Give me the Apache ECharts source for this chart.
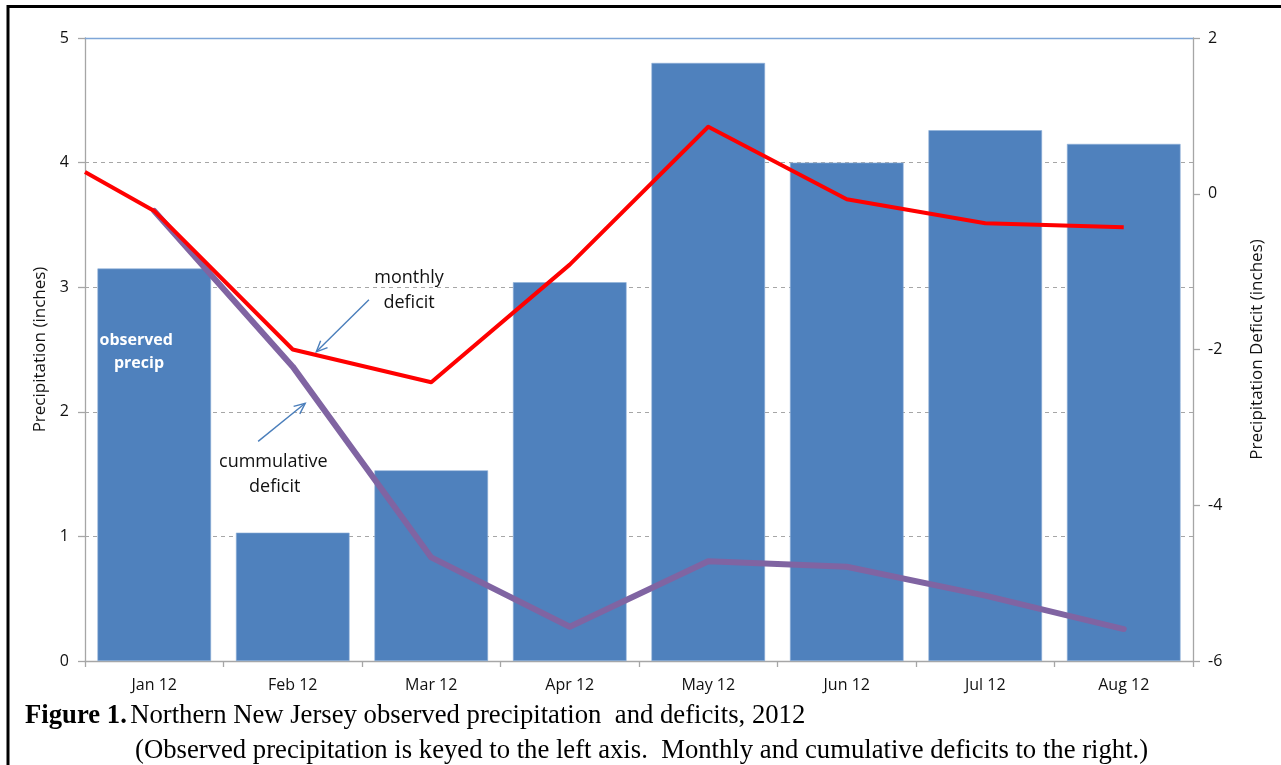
<!DOCTYPE html>
<html>
<head>
<meta charset="utf-8">
<title>Northern New Jersey precipitation and deficits, 2012</title>
<script src="https://cdn.jsdelivr.net/npm/echarts@6/dist/echarts.min.js"></script>
<style>
  html, body { margin: 0; padding: 0; background: #fff; }
  #chart { width: 1281px; height: 765px; }
</style>
</head>
<body>
<div id="chart"></div>
<script>
// ---- data (inches) ----
const months = ['Jan 12', 'Feb 12', 'Mar 12', 'Apr 12', 'May 12', 'Jun 12', 'Jul 12', 'Aug 12'];
const precip = [3.15, 1.03, 1.53, 3.04, 4.80, 4.00, 4.26, 4.15];

// monthly deficit line enters from the left edge of the plot (position -0.5)
const monthlyPos = [-0.5, 0, 1, 2, 3, 4, 5, 6, 7];
const monthlyDeficit = [0.28, -0.22, -2.00, -2.42, -0.91, 0.86, -0.07, -0.38, -0.43];

const cumulativePos = [0, 1, 2, 3, 4, 5, 6, 7];
const cumulativeDeficit = [-0.22, -2.22, -4.67, -5.56, -4.72, -4.79, -5.16, -5.59];

// axis ranges
const precipAxis = { min: 0, max: 5, interval: 1 };
const deficitAxis = { min: -6, max: 2, interval: 2 };

const FONT = '"Open Sans", sans-serif';
const SERIF = '"Liberation Serif", "Times New Roman", serif';
const AXIS_GREY = '#a6a6a6';

const chart = echarts.init(document.getElementById('chart'), null, { renderer: 'canvas' });

const zip = (xs, ys) => xs.map((x, i) => [x, ys[i]]);

chart.setOption({
  backgroundColor: '#fff',
  animation: false,
  grid: { left: 85, right: 88, top: 38, bottom: 104, containLabel: false },
  xAxis: [
    {
      type: 'category',
      data: months,
      position: 'bottom',
      axisLine: { onZero: false, lineStyle: { color: AXIS_GREY, width: 1.3 } },
      axisTick: { show: true, length: 6, lineStyle: { color: AXIS_GREY, width: 1.3 } },
      axisLabel: { color: '#111', fontFamily: FONT, fontSize: 16, margin: 16 },
      splitLine: { show: false }
    },
    {
      // index scale shared with the category centres; its line closes the top of the plot
      type: 'value',
      min: -0.5,
      max: 7.5,
      position: 'top',
      axisLine: { show: true, onZero: false, lineStyle: { color: '#7ea6d8', width: 1.3 } },
      axisTick: { show: false },
      axisLabel: { show: false },
      splitLine: { show: false }
    }
  ],
  yAxis: [
    {
      type: 'value',
      min: precipAxis.min,
      max: precipAxis.max,
      interval: precipAxis.interval,
      position: 'left',
      name: 'Precipitation (inches)',
      nameLocation: 'middle',
      nameGap: 36,
      nameRotate: 90,
      nameTextStyle: { color: '#111', fontFamily: FONT, fontSize: 17 },
      axisLine: { show: true, onZero: false, lineStyle: { color: AXIS_GREY, width: 1.3 } },
      axisTick: { show: true, length: 7, lineStyle: { color: AXIS_GREY, width: 1.3 } },
      axisLabel: { color: '#111', fontFamily: FONT, fontSize: 16, margin: 16 },
      splitLine: { show: true, lineStyle: { color: '#a6a6a6', type: [4, 4], width: 1 } }
    },
    {
      type: 'value',
      min: deficitAxis.min,
      max: deficitAxis.max,
      interval: deficitAxis.interval,
      position: 'right',
      name: 'Precipitation Deficit (inches)',
      nameLocation: 'middle',
      nameGap: 56,
      nameRotate: 90,
      nameTextStyle: { color: '#111', fontFamily: FONT, fontSize: 17 },
      axisLine: { show: true, onZero: false, lineStyle: { color: AXIS_GREY, width: 1.3 } },
      axisTick: { show: true, length: 7, lineStyle: { color: AXIS_GREY, width: 1.3 } },
      axisLabel: { color: '#111', fontFamily: FONT, fontSize: 16, margin: 15 },
      splitLine: { show: false }
    }
  ],
  series: [
    {
      name: 'observed precip',
      type: 'bar',
      xAxisIndex: 0,
      yAxisIndex: 0,
      data: precip,
      barCategoryGap: '18%',
      itemStyle: { color: '#4f81bd', borderColor: '#8fb0d8', borderWidth: 0.6 },
      z: 2
    },
    {
      name: 'cumulative deficit',
      type: 'line',
      xAxisIndex: 1,
      yAxisIndex: 1,
      data: zip(cumulativePos, cumulativeDeficit),
      symbol: 'none',
      lineStyle: { color: '#8064a2', width: 6, join: 'round', cap: 'round' },
      z: 3
    },
    {
      name: 'monthly deficit',
      type: 'line',
      xAxisIndex: 1,
      yAxisIndex: 1,
      data: zip(monthlyPos, monthlyDeficit),
      symbol: 'none',
      clip: true,
      lineStyle: { color: '#ff0000', width: 4, join: 'round' },
      z: 4
    }
  ]
});

// ---- annotations, anchored in (position, deficit) coordinates ----
const toPx = (x, y) => chart.convertToPixel({ seriesIndex: 2 }, [x, y]);

function arrow(from, to) {
  const a = toPx(from[0], from[1]);
  const b = toPx(to[0], to[1]);
  const ang = Math.atan2(b[1] - a[1], b[0] - a[0]);
  const len = 12, spread = 0.42;
  const p1 = [b[0] - len * Math.cos(ang - spread), b[1] - len * Math.sin(ang - spread)];
  const p2 = [b[0] - len * Math.cos(ang + spread), b[1] - len * Math.sin(ang + spread)];
  const style = { stroke: '#4a7ebb', lineWidth: 1.4, fill: null };
  return [
    { type: 'line', shape: { x1: a[0], y1: a[1], x2: b[0], y2: b[1] }, style: style, z: 10 },
    { type: 'polyline', shape: { points: [p1, b, p2] }, style: style, z: 10 }
  ];
}

function label(pos, text, opts) {
  const p = toPx(pos[0], pos[1]);
  return {
    type: 'text',
    x: p[0], y: p[1],
    z: 10,
    style: Object.assign({
      text: text,
      fontFamily: FONT,
      fontSize: 18,
      fill: '#111',
      align: 'center',
      verticalAlign: 'middle'
    }, opts || {})
  };
}

const graphics = [
  label([1.84, -1.08], 'monthly'),
  label([1.84, -1.40], 'deficit'),
  label([0.86, -3.44], 'cummulative'),
  label([0.87, -3.76], 'deficit'),
  label([-0.13, -1.88], 'observed', { fill: '#fff', fontWeight: 'bold', fontSize: 16 }),
  label([-0.11, -2.18], 'precip', { fill: '#fff', fontWeight: 'bold', fontSize: 16 }),
  ...arrow([1.55, -1.36], [1.17, -2.03]),
  ...arrow([0.75, -3.18], [1.09, -2.69]),
  {
    // figure caption
    type: 'text',
    x: 25, y: 716, z: 10,
    style: {
      text: '{b|Figure 1.} {n|Northern New Jersey observed precipitation  and deficits, 2012}',
      verticalAlign: 'middle',
      rich: {
        b: { fontFamily: SERIF, fontSize: 26.7, fontWeight: 'bold', fill: '#000' },
        n: { fontFamily: SERIF, fontSize: 26.7, fill: '#000' }
      }
    }
  },
  {
    type: 'text',
    x: 135, y: 751, z: 10,
    style: {
      text: '(Observed precipitation is keyed to the left axis.  Monthly and cumulative deficits to the right.)',
      verticalAlign: 'middle',
      fontFamily: SERIF, fontSize: 26.7, fill: '#000'
    }
  },
  {
    // frame around the figure
    type: 'rect',
    shape: { x: 8, y: 6.5, width: 1300, height: 800 },
    style: { fill: null, stroke: '#000', lineWidth: 3 },
    z: 20,
    silent: true
  }
];

chart.setOption({ graphic: graphics });
</script>
</body>
</html>
